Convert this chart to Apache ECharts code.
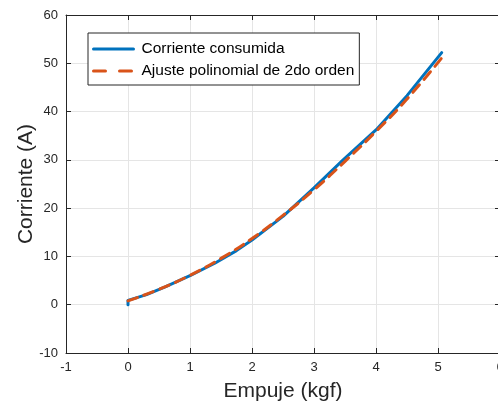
<!DOCTYPE html>
<html>
<head>
<meta charset="utf-8">
<script src="https://cdn.jsdelivr.net/npm/echarts@6/dist/echarts.min.js"></script>
<style>
  html, body { margin: 0; padding: 0; background: #fff; overflow: hidden; }
  #chart { width: 504px; height: 405px; }
</style>
</head>
<body>
<div id="chart"></div>
<script>
// Datos medidos (empuje en kgf, corriente en A)
const empujeMedido = [0, 0, 0.3, 0.6, 1.0, 1.4, 1.75, 2.0, 2.5, 3.0, 3.47, 4.0, 4.5, 5.06];
const corrienteMedida = [0, 0.9, 2.1, 3.7, 6.0, 8.6, 11.2, 13.4, 18.3, 24.2, 30.0, 36.2, 43.3, 52.2];

// Ajuste polinomial de 2do orden
const empujeAjuste = [0, 0.5, 1.0, 1.5, 2.0, 2.5, 3.0, 3.5, 4.0, 4.5, 5.11];
const corrienteAjuste = [0.8, 3.2, 6.1, 9.6, 13.7, 18.5, 23.8, 29.7, 35.9, 42.6, 51.9];

const etiquetas = ['Corriente consumida', 'Ajuste polinomial de 2do orden'];

const FONT = 'Liberation Sans';
const TXT = '#262626';
const AZUL = '#0072BD';
const NARANJA = '#D95319';

const chart = echarts.init(document.getElementById('chart'));

const medida = empujeMedido.map((x, i) => [x, corrienteMedida[i]]);
const ajuste = empujeAjuste.map((x, i) => [x, corrienteAjuste[i]]);

// ejes secundarios (arriba / derecha) solo para la caja y las marcas
const ejeCaja = {
    type: 'value',
    axisLine: { show: true, onZero: false, lineStyle: { color: TXT, width: 1 } },
    axisTick: { show: true, inside: true, length: 5, lineStyle: { color: TXT } },
    splitLine: { show: false },
    axisLabel: { show: false }
};

chart.setOption({
    animation: false,
    textStyle: { fontFamily: FONT },
    grid: { left: 66, top: 15, right: 4, bottom: 52, outerBoundsMode: 'none' },
    legend: {
        orient: 'vertical',
        left: 88,
        top: 33,
        data: [
            { name: etiquetas[0], lineStyle: { type: 'solid' } },
            { name: etiquetas[1] }
        ],
        lineStyle: { width: 3, type: [12, 14] },
        itemStyle: { opacity: 0 },
        itemWidth: 40,
        itemHeight: 14,
        itemGap: 6,
        padding: [8, 5, 6, 4],
        backgroundColor: '#fff',
        borderColor: TXT,
        borderWidth: 1,
        borderRadius: 0,
        textStyle: { fontFamily: FONT, fontSize: 15.5, color: '#000', padding: [0, 0, 0, 3] }
    },
    xAxis: [
        {
            type: 'value',
            min: -1, max: 6, interval: 1,
            name: 'Empuje (kgf)',
            nameLocation: 'middle',
            nameGap: 28,
            nameMoveOverlap: false,
            nameTextStyle: { fontFamily: FONT, fontSize: 21, color: TXT },
            axisLine: { show: true, onZero: false, lineStyle: { color: TXT, width: 1 } },
            axisTick: { show: true, inside: true, length: 5, lineStyle: { color: TXT } },
            axisLabel: { fontFamily: FONT, fontSize: 13, color: TXT, margin: 8 },
            splitLine: { show: true, lineStyle: { color: '#e5e5e5', width: 1 } }
        },
        Object.assign({}, ejeCaja, { position: 'top', min: -1, max: 6, interval: 1 })
    ],
    yAxis: [
        {
            type: 'value',
            min: -10, max: 60, interval: 10,
            name: 'Corriente (A)',
            nameLocation: 'middle',
            nameGap: 29,
            nameMoveOverlap: false,
            nameTextStyle: { fontFamily: FONT, fontSize: 21, color: TXT },
            axisLine: { show: true, onZero: false, lineStyle: { color: TXT, width: 1 } },
            axisTick: { show: true, inside: true, length: 5, lineStyle: { color: TXT } },
            axisLabel: { fontFamily: FONT, fontSize: 13, color: TXT, margin: 8 },
            splitLine: { show: true, lineStyle: { color: '#e5e5e5', width: 1 } }
        },
        Object.assign({}, ejeCaja, { position: 'right', min: -10, max: 60, interval: 10 })
    ],
    series: [
        {
            name: etiquetas[0],
            type: 'line',
            data: medida,
            showSymbol: false,
            symbol: 'none',
            lineStyle: { color: AZUL, width: 3, cap: 'round', join: 'round' },
            itemStyle: { color: AZUL },
            z: 2
        },
        {
            name: etiquetas[1],
            type: 'line',
            data: ajuste,
            smooth: true,
            showSymbol: false,
            symbol: 'none',
            lineStyle: { color: NARANJA, width: 3, type: [10, 7], cap: 'round' },
            itemStyle: { color: NARANJA },
            z: 3
        }
    ]
});
</script>
</body>
</html>
